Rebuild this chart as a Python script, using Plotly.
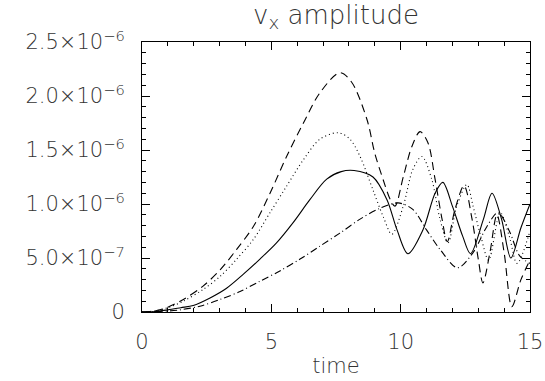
import plotly.graph_objects as go
import numpy as np

SCALE = 1e-6  # values below are in units of 1e-6

t_solid = [0, 0.5, 1, 1.5, 1.98, 2.63, 3.27, 3.92, 4.56, 5.2, 5.85, 6.49, 7.14, 7.7, 8.2, 8.93, 9.47, 9.86, 10.28,
           10.86, 11.33, 11.63, 12.0, 12.4, 12.7, 13.2, 13.53, 13.9, 14.26, 14.65, 15]
v_solid = [0, 0.005, 0.02, 0.04, 0.06, 0.13, 0.22, 0.35, 0.49, 0.64, 0.83, 1.04, 1.23, 1.30, 1.31, 1.25, 1.04, 0.76, 0.54,
           0.76, 1.10, 1.20, 0.98, 0.70, 0.54, 0.86, 1.10, 0.86, 0.50, 0.78, 1.0]

t_dash = [0, 0.5, 0.95, 1.6, 2.36, 3.02, 3.66, 4.3, 4.95, 5.59, 6.24, 6.88, 7.65, 8.1, 8.7, 9.0, 9.33, 9.6, 9.78,
          10.1, 10.43, 10.75, 11.05, 11.33, 11.6, 11.8, 12.1, 12.45, 12.76, 13.0, 13.18, 13.45, 13.72, 14.0, 14.3, 14.65, 15]
v_dash = [0, 0.01, 0.04, 0.116, 0.24, 0.39, 0.58, 0.79, 1.10, 1.44, 1.75, 2.03, 2.215, 2.13, 1.78, 1.47, 1.22, 1.04, 0.98,
          1.25, 1.53, 1.67, 1.57, 1.23, 0.86, 0.65, 0.95, 1.17, 0.86, 0.49, 0.27, 0.55, 0.90, 0.55, 0.05, 0.30, 0.48]

t_dot = [0, 0.5, 1, 1.6, 2.37, 3.02, 3.66, 4.3, 4.95, 5.59, 6.24, 6.88, 7.59, 8.04, 8.43, 8.93, 9.33, 9.66,
         10.1, 10.47, 10.82, 11.2, 11.52, 11.83, 12.17, 12.56, 12.8, 13.1, 13.4, 13.85, 14.2, 14.5, 15]
v_dot = [0, 0.01, 0.04, 0.10, 0.21, 0.33, 0.49, 0.67, 0.92, 1.165, 1.41, 1.60, 1.66, 1.60, 1.44, 1.13, 0.88, 0.72,
         0.98, 1.32, 1.44, 1.23, 0.86, 0.64, 0.98, 1.18, 0.98, 0.70, 0.48, 0.92, 0.70, 0.45, 0.75]

t_dashdot = [0, 0.7, 1.47, 2.24, 3.02, 3.79, 4.56, 5.33, 6.11, 6.88, 7.65, 8.43, 9.2, 9.9, 10.47, 11.0, 11.52, 12.2,
             12.8, 13.33, 13.76, 14.2, 14.6, 15]
v_dashdot = [0, 0.005, 0.02, 0.054, 0.116, 0.19, 0.285, 0.38, 0.49, 0.61, 0.73, 0.86, 0.96, 1.01, 0.95, 0.76, 0.58, 0.41,
             0.55, 0.79, 0.92, 0.75, 0.52, 0.45]

y_tickvals = [0, 5e-7, 1.0e-6, 1.5e-6, 2.0e-6, 2.5e-6]
y_ticktext = ["0", "5.0×10<sup>−7</sup>", "1.0×10<sup>−6</sup>", "1.5×10<sup>−6</sup>",
              "2.0×10<sup>−6</sup>", "2.5×10<sup>−6</sup>"]
x_tickvals = [0, 5, 10, 15]
x_ticktext = ["0", "5", "10", "15"]

FONT = "DejaVu Sans"
TXT = "#333"

fig = go.Figure()
series = [
    (t_solid, v_solid, "solid"),
    (t_dash, v_dash, "8px,5px"),
    (t_dot, v_dot, "1px,3px"),
    (t_dashdot, v_dashdot, "7px,3px,1px,3px"),
]
for t, v, dash in series:
    fig.add_trace(go.Scatter(
        x=t, y=np.array(v) * SCALE, mode="lines",
        line=dict(color="black", width=1.1, dash=dash, shape="spline", smoothing=0.9),
        showlegend=False, hoverinfo="skip"))

axis_common = dict(
    showgrid=False, zeroline=False, showline=True, linecolor="black", linewidth=1,
    mirror="ticks", ticks="inside", ticklen=8, tickcolor="black", tickwidth=1,
    automargin=False,
)
fig.update_xaxes(
    range=[0, 15], tickvals=x_tickvals, ticktext=x_ticktext,
    tickfont=dict(family=FONT, size=21, color=TXT, weight=300),
    ticklabelstandoff=11,
    minor=dict(ticks="inside", ticklen=4, dtick=1, tick0=0, tickcolor="black", showgrid=False),
    title=dict(text="time", font=dict(family=FONT, size=21, color=TXT, weight=300), standoff=5),
    **axis_common)
fig.update_yaxes(
    range=[0, 2.5e-6], tickvals=y_tickvals, ticktext=y_ticktext,
    tickfont=dict(family=FONT, size=21, color=TXT, weight=300),
    ticklabelstandoff=12,
    minor=dict(ticks="inside", ticklen=4, dtick=1e-7, tick0=0, tickcolor="black", showgrid=False),
    **axis_common)

fig.update_layout(
    width=545, height=381,
    margin=dict(l=142, r=15, t=42, b=69),
    paper_bgcolor="white", plot_bgcolor="white",
    title=dict(text="v<sub>x</sub> amplitude", x=0.5, xref="paper", xanchor="center",
               y=0.985, yanchor="top",
               font=dict(family=FONT, size=26, color=TXT, weight=300)),
)

# remove the page's default body margin so the figure fills the window exactly
fig.write_html("out.html",
               config={"displayModeBar": False},
               post_script="document.body.style.margin='0';document.body.style.overflow='hidden';")
